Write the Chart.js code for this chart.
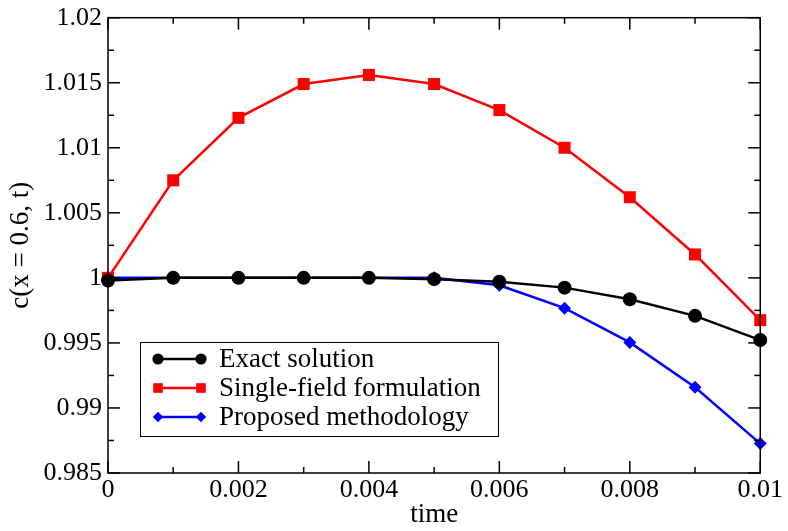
<!DOCTYPE html>
<html>
<head>
<meta charset="utf-8">
<script src="https://cdn.jsdelivr.net/npm/chart.js@4.4.1/dist/chart.umd.min.js"></script>
<style>
  html, body { margin: 0; padding: 0; background: #fff; }
  #wrap { width: 788px; height: 531px; }
</style>
</head>
<body>
<div id="wrap"><canvas id="chart" width="788" height="531"></canvas></div>
<script>
// values
const times = [0, 0.001, 0.002, 0.003, 0.004, 0.005, 0.006, 0.007, 0.008, 0.009, 0.01];
const exactSolution = [0.9998, 1.0, 1.0, 1.0, 1.0, 0.9999, 0.9997, 0.99925, 0.99836, 0.99708, 0.99522];
const singleField = [1.0, 1.0075, 1.0123, 1.0149, 1.0156, 1.0149, 1.0129, 1.0100, 1.0062, 1.0018, 0.99675];
const proposed = [1.0, 1.0, 1.0, 1.0, 1.0, 1.0, 0.99943, 0.99767, 0.99504, 0.99159, 0.98726];

const xTicks = [0, 0.002, 0.004, 0.006, 0.008, 0.01];
const yTicks = [0.985, 0.99, 0.995, 1, 1.005, 1.01, 1.015, 1.02];

const seriesNames = ['Exact solution', 'Single-field formulation', 'Proposed methodology'];

const FONT = '"Liberation Serif", "Times New Roman", serif';

const toPoints = (ys) => times.map((t, i) => ({ x: t, y: ys[i] }));

// frame with inward ticks on all four sides, like the original plot
const framePlugin = {
    id: 'frame',
    afterDatasetsDraw(chart) {
        const { ctx, chartArea: a, scales } = chart;
        ctx.save();
        ctx.strokeStyle = '#000';
        ctx.lineWidth = 1.5;
        ctx.strokeRect(a.left, a.top, a.right - a.left, a.bottom - a.top);

        const tick = (x1, y1, x2, y2) => {
            ctx.beginPath();
            ctx.moveTo(x1, y1);
            ctx.lineTo(x2, y2);
            ctx.stroke();
        };
        // x: major every 0.002, minor every 0.001
        for (let i = 0; i <= 10; i++) {
            const x = scales.x.getPixelForValue(i * 0.001);
            const len = i % 2 === 0 ? 12 : 6;
            tick(x, a.bottom, x, a.bottom - len);
            tick(x, a.top, x, a.top + len);
        }
        // y: major every 0.005, minor every 0.0025
        for (let i = 0; i <= 14; i++) {
            const y = scales.y.getPixelForValue(0.985 + i * 0.0025);
            const len = i % 2 === 0 ? 12 : 6;
            tick(a.left, y, a.left + len, y);
            tick(a.right, y, a.right - len, y);
        }
        ctx.restore();
    }
};

// legend box drawn inside the plot area
const boxLegendPlugin = {
    id: 'boxLegend',
    afterDraw(chart) {
        const { ctx } = chart;
        const left = 140, top = 342, width = 358, height = 94;
        ctx.save();
        ctx.fillStyle = '#fff';
        ctx.fillRect(left, top, width, height);
        ctx.strokeStyle = '#000';
        ctx.lineWidth = 1;
        ctx.strokeRect(left + 0.5, top + 0.5, width, height);

        chart.data.datasets.forEach((ds, i) => {
            const y = 359 + i * 29;
            ctx.strokeStyle = ds.borderColor;
            ctx.lineWidth = ds.borderWidth;
            ctx.beginPath();
            ctx.moveTo(158, y);
            ctx.lineTo(201, y);
            ctx.stroke();
            const opts = {
                pointStyle: ds.pointStyle,
                radius: ds.pointRadius * 0.8,
                borderWidth: 0,
                rotation: 0
            };
            ctx.fillStyle = ds.backgroundColor;
            Chart.helpers.drawPoint(ctx, opts, 158, y);
            Chart.helpers.drawPoint(ctx, opts, 201, y);

            ctx.fillStyle = '#000';
            ctx.font = '27px ' + FONT;
            ctx.textBaseline = 'middle';
            ctx.fillText(ds.label, 219, y + 1);
        });
        ctx.restore();
    }
};

new Chart(document.getElementById('chart'), {
    type: 'scatter',
    data: {
        datasets: [
            {
                label: seriesNames[0],
                data: toPoints(exactSolution),
                borderColor: '#000',
                backgroundColor: '#000',
                pointStyle: 'circle',
                pointRadius: 7
            },
            {
                label: seriesNames[1],
                data: toPoints(singleField),
                borderColor: '#ff0000',
                backgroundColor: '#ff0000',
                pointStyle: 'rect',
                pointRadius: 8.5
            },
            {
                label: seriesNames[2],
                data: toPoints(proposed),
                borderColor: '#0000ff',
                backgroundColor: '#0000ff',
                pointStyle: 'rectRot',
                pointRadius: 6.5
            }
        ].map(ds => Object.assign(ds, {
            showLine: true,
            borderWidth: 2.5,
            pointBorderWidth: 0,
            pointHoverRadius: ds.pointRadius,
            clip: false
        }))
    },
    options: {
        responsive: false,
        animation: false,
        events: [],
        layout: { padding: { left: 0, top: 16, right: 27, bottom: 0 } },
        plugins: {
            legend: { display: false },
            tooltip: { enabled: false }
        },
        scales: {
            x: {
                type: 'linear',
                min: 0,
                max: 0.01,
                grid: { display: false, drawTicks: false },
                border: { display: false },
                afterFit: (scale) => { scale.height = 58; },
                afterBuildTicks: (scale) => {
                    scale.ticks = xTicks.map(v => ({ value: v }));
                },
                ticks: {
                    color: '#000',
                    font: { family: FONT, size: 26, lineHeight: 0.9 },
                    padding: 5,
                    maxRotation: 0,
                    callback: (v) => String(+v.toFixed(4))
                },
                title: {
                    display: true,
                    text: 'time',
                    color: '#000',
                    font: { family: FONT, size: 27 },
                    padding: { top: -9, bottom: 0 }
                }
            },
            y: {
                type: 'linear',
                min: 0.985,
                max: 1.02,
                grid: { display: false, drawTicks: false },
                border: { display: false },
                afterFit: (scale) => { scale.width = 108; },
                afterBuildTicks: (scale) => {
                    scale.ticks = yTicks.map(v => ({ value: v }));
                },
                ticks: {
                    color: '#000',
                    font: { family: FONT, size: 26, lineHeight: 0.9 },
                    padding: 6,
                    callback: (v) => String(+v.toFixed(4))
                },
                title: {
                    display: true,
                    text: 'c(x = 0.6, t)',
                    color: '#000',
                    font: { family: FONT, size: 27 },
                    padding: { top: 5, bottom: 0 }
                }
            }
        }
    },
    plugins: [framePlugin, boxLegendPlugin]
});
</script>
</body>
</html>
